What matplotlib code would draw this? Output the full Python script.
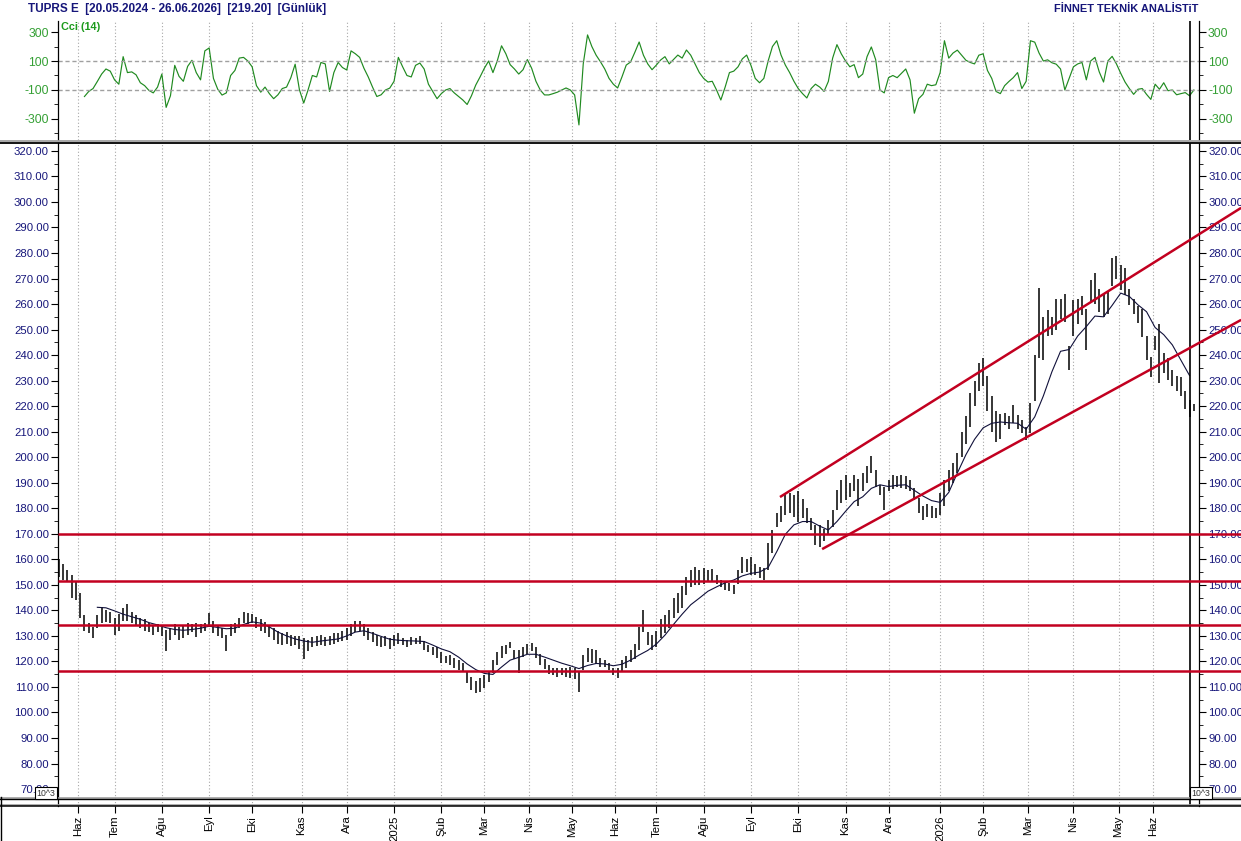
import matplotlib
matplotlib.use("Agg")
import matplotlib.pyplot as plt
from matplotlib.lines import Line2D
from matplotlib.ticker import MultipleLocator, FixedLocator
import numpy as np

plt.rcParams['font.family'] = ['Liberation Sans', 'DejaVu Sans']
plt.rcParams['axes.unicode_minus'] = False

# --- data --------------------------------------------------------------
# one bar for every second session (bar i -> trading day 2*i)
bar_low = [
    153, 152, 151, 145, 144, 137, 132, 131, 129, 133,
    135, 135.5, 135, 130.5, 132, 136, 136, 135, 134, 133,
    132, 131.5, 130.5, 131.5, 130, 124, 128.5, 130.5, 128.5, 129,
    130.5, 131.5, 129.5, 131, 132, 133.5, 131, 130, 129, 124,
    130, 131, 133, 135, 134.5, 135, 133, 132, 131, 129.5,
    128.5, 127, 126.5, 127, 126, 126.5, 125, 121, 124, 125.5,
    126, 126.5, 126, 126.5, 127, 127.5, 128, 128.5, 130, 131.5,
    132, 130, 128.5, 127.5, 126, 125.5, 126, 125, 126, 127,
    126.5, 125.8, 126.5, 127, 127, 124.5, 123.5, 122.5, 121.5, 119.5,
    119.5, 118.6, 117.5, 116.7, 115.8, 111.4, 108.8, 107.8, 108.2, 109.5,
    112, 115.4, 118.6, 121.5, 123, 125.2, 121, 115.4, 121.8, 123,
    124, 121.2, 118.5, 117, 115, 114.5, 114, 114.5, 114, 113.4,
    113, 108.2, 116.7, 119.9, 119.5, 119, 118, 117.8, 116.5, 114.7,
    113.4, 116, 117.5, 119.9, 121, 124.5, 131.7, 126.5, 124.5, 125.5,
    129, 131, 133, 137, 139, 141, 146, 149, 150, 149.9,
    150.5, 151, 151, 150.5, 149.2, 147.9, 147.5, 146.6, 150.5, 154.5,
    155, 154, 154, 152.5, 152, 155.8, 162.3, 172.8, 174.8, 177.4,
    178, 176.7, 174.8, 176, 174.1, 171.5, 165.6, 165, 167, 169.5,
    172.8, 179.4, 182, 183.3, 184.6, 186.6, 181, 186.6, 190, 193.8,
    188.5, 185.3, 179.4, 186.6, 187.5, 188.5, 188, 187.5, 186.6, 183.3,
    178, 175.4, 176.5, 176, 176, 177.4, 180.7, 186.6, 189.8, 193.8,
    200, 205, 212, 220, 226, 228, 218, 210, 206, 207,
    212.6, 211, 213.3, 211, 209.4, 206.8, 209.4, 222, 239, 238,
    247.3, 248, 250, 254, 253, 234.2, 247.3, 252, 255.8, 242,
    261, 260, 257, 255, 256, 266.9, 270, 265.6, 263.6, 259.7,
    256, 252.5, 247, 238.1, 231.6, 242, 229, 233, 230.3, 228,
    226, 223.8, 219, 215.9, 218,
]
bar_high = [
    160, 158, 156, 154, 151.5, 147, 138, 135, 133.5, 138,
    141.5, 140, 139.5, 137, 138.5, 141, 142.5, 139.5, 138, 137,
    136.5, 135, 134, 134.5, 133.5, 132.5, 133, 134.5, 133.5, 134,
    135, 134.5, 135, 134.5, 135, 139, 136, 134, 133, 130.5,
    134.5, 135, 137, 139.5, 139, 138.5, 137.5, 136.5, 135.5, 134,
    133, 132, 131, 131.5, 130.5, 130, 130, 129, 128.5, 129.5,
    130, 130.5, 129.5, 130, 131, 131, 132, 133, 134.5, 136,
    136, 134.5, 133, 131.5, 130.5, 129.5, 130, 129, 130.5, 131,
    129, 128.4, 129.5, 129, 130, 128, 126.5, 125.8, 125.5, 123.5,
    122, 122.5, 121.5, 120.6, 119.5, 116, 114, 112.5, 113.4, 114.7,
    116, 120.6, 123.8, 126, 126.5, 127.8, 124.5, 124.5, 125.8, 127,
    127.4, 125.8, 123, 121, 118.5, 117.3, 117.3, 117.3, 117.5, 118,
    117.3, 116, 122.5, 125.2, 125, 124.5, 121.2, 120.5, 119.5, 117.3,
    117.3, 120.5, 122, 124.5, 127, 133.6, 140.2, 131.7, 130.5, 132,
    136.5, 138, 140, 145, 147, 149.5, 153, 156, 157, 155.8,
    156.5, 156, 156.4, 154, 151.9, 151.2, 150.8, 149.9, 155.8, 161,
    160, 161, 158, 157, 156.5, 166.3, 171.5, 178, 180.7, 186,
    186, 185.3, 186.6, 183.5, 180, 176, 173.5, 173.5, 172, 175.4,
    179.4, 187.2, 191.2, 193.1, 189.8, 193.1, 191.5, 194, 196.5, 200.5,
    195, 189.2, 188.5, 191.2, 193, 192.5, 193.1, 192.5, 191.2, 187.9,
    184, 180.7, 181.5, 181, 180, 185.9, 191.2, 195.1, 197.7, 201.6,
    210, 216, 225, 230, 237, 239, 232, 224, 218, 217,
    217.2, 216, 220.5, 216.5, 214.6, 212, 221.1, 240, 266.3, 255,
    257.8, 255, 262, 262, 264, 243.4, 261.7, 262, 263, 258,
    269.5, 272, 266, 264, 265, 278, 279, 275.4, 274.1, 266,
    262, 259.1, 258, 247.3, 239.4, 247.3, 252, 241, 238.8, 234,
    232, 231.6, 226, 222.4, 221,
]

# moving average, read every second bar starting at bar 9
ma_first_bar = 9
ma_line = [
    141.2, 141, 139.8, 138.5, 137.5, 136.5, 135.2, 134.3, 133.2, 132.5,
    132.2, 132.5, 133, 133.8, 133.3, 132.8, 133, 134.5, 135.5, 135,
    133.5, 131.5, 130, 128.8, 128, 127.5, 128, 128.4, 128.8, 130,
    131.5, 132, 131, 129.8, 128.7, 128.3, 128.1, 128, 127.8, 126.4,
    124.9, 123.8, 121.7, 119, 116.8, 115.3, 114.9, 117.8, 120.5, 121.6,
    122.8, 122.8, 121.7, 120.5, 119.3, 118.3, 117.2, 118.4, 119.2, 119,
    118.3, 118.9, 120.5, 122.5, 124.3, 126.8, 130.3, 134.5, 138.5, 142.2,
    144.8, 147.5, 149.2, 150.8, 151.9, 153.5, 154.5, 155, 156.8, 163,
    169.8, 173.5, 174.8, 174.8, 173, 171.5, 174.8, 178.8, 182.6, 184.5,
    187.8, 189.2, 188.5, 189, 189.2, 187, 184.8, 183, 182.3, 186.2,
    193.8, 201, 207, 211.5, 213.3, 213.8, 213.5, 213.3, 211, 215.8,
    224, 233.5, 241.5, 242.2, 247.5, 251.2, 255.3, 255, 259.5, 264.3,
    263, 259.7, 257, 250.8, 248, 244, 238, 232,
]

# CCI(14), one value per bar starting at bar 6
cci_first_bar = 6
cci14 = [
    -145, -110, -90, -41,
    10, 45, 30, -30, -60, 130, 20, 25, 5, -50,
    -70, -103, -120, -80, 10, -220, -140, 70, -6, -40,
    63, 105, 20, -30, 170, 190, -20, -95, -135, -120,
    0, 35, 120, 125, 100, 60, -70, -115, -80, -125,
    -160, -133, -90, -80, -15, 78, -99, -190, -100, 0,
    -10, 90, 80, -110, 20, 90, 55, 38, 170, 150,
    125, 50, -10, -80, -145, -133, -100, -87, -40, 125,
    60, 0, -10, 70, 86, 45, -60, -110, -160, -125,
    -100, -90, -120, -145, -169, -200, -140, -66, -10, 50,
    100, 20, 100, 205, 150, 75, 45, 10, 40, 110,
    50, -40, -100, -134, -134, -125, -115, -100, -86, -100,
    -134, -341, 80, 280, 200, 140, 95, 45, -20, -60,
    -86, -10, 72, 93, 160, 231, 140, 80, 40, 72,
    107, 130, 80, 110, 141, 120, 176, 140, 80, 20,
    -20, -45, -40, -100, -169, -80, 20, 30, 60, 115,
    141, 70, -20, -50, -20, 100, 200, 240, 141, 72,
    20, -40, -90, -125, -155, -90, -60, -80, -110, -41,
    120, 213, 150, 100, 60, 75, -15, 10, 130, 197,
    110, -100, -120, -15, 0, -15, 15, 45, -30, -260,
    -160, -130, -60, -70, -64, 20, 240, 120, 155, 175,
    140, 105, 90, 80, 140, 150, 35, -20, -110, -125,
    -70, -41, -15, 20, -90, -40, 240, 230, 155, 100,
    108, 88, 78, 45, -100, -20, 60, 80, 90, -30,
    100, 125, 25, -45, 100, 132, 80, 15, -45, -90,
    -130, -95, -90, -130, -165, -60, -95, -50, -105, -100,
    -133, -125, -118, -140, -100,
]

support_levels = [170.0, 151.5, 134.3, 116.3]
# channel lines: (trading day, price) start -> end
channel_upper = [(335.5, 184.4), (550.0, 297.7)]
channel_lower = [(355.1, 164.0), (550.0, 253.8)]
last_day = 526

month_labels = ['Haz', 'Tem', 'Ağu', 'Eyl', 'Eki', 'Kas', 'Ara', '2025',
                'Şub', 'Mar', 'Nis', 'May', 'Haz', 'Tem', 'Ağu', 'Eyl',
                'Eki', 'Kas', 'Ara', '2026', 'Şub', 'Mar', 'Nis', 'May', 'Haz']
month_days = [9, 26, 48, 70, 90, 113, 134, 156, 178, 198, 219, 239, 259,
              278, 300, 322, 344, 366, 386, 410, 430, 451, 472, 493, 509]

title = 'TUPRS E  [20.05.2024 - 26.06.2026]  [219.20]  [Günlük]'
brand = 'FİNNET TEKNİK ANALİSTiT'

# --- layout ---------------------------------------------------------------
W, H = 1241, 841
NAVY = '#16167a'
RED = '#c20020'
GREEN_TXT = '#35a035'
GRID = '#a8a8a8'


def box(x0, y0, x1, y1):
    return [x0 / W, 1 - y1 / H, (x1 - x0) / W, (y1 - y0) / H]


fig = plt.figure(figsize=(W / 100, H / 100), dpi=100)
ax_cci = fig.add_axes(box(58, 21, 1199, 140))
ax = fig.add_axes(box(58, 143, 1199, 799), sharex=ax_cci)
ax_d = fig.add_axes(box(58, 799, 1199, 806), sharex=ax_cci)

ax_cci.set_xlim(-0.3, 530.4)

for a in (ax_cci, ax, ax_d):
    a.set_xticks(month_days)
    a.grid(axis='x', color=GRID, linestyle=(0, (1, 2)), linewidth=0.8)
    a.axvline(last_day, color='black', lw=1.2, zorder=4)
    for s in a.spines.values():
        s.set_linewidth(0.9)
    a.spines['top'].set_visible(False)
    a.spines['bottom'].set_visible(False)

# --- CCI panel ------------------------------------------------------------
cci_days = (cci_first_bar + np.arange(len(cci14))) * 2
ax_cci.plot(cci_days, cci14, color='#208a20', lw=0.85)
for lvl in (100, -100):
    ax_cci.axhline(lvl, color='#a0a0a0', lw=1.0, ls=(0, (3, 2)))
ax_cci.set_ylim(-445, 376)
ax_cci.yaxis.set_major_locator(FixedLocator([-300, -100, 100, 300]))
ax_cci.yaxis.set_minor_locator(FixedLocator([-400, -200, 0, 200]))
ax_cci.yaxis.set_ticks_position('both')
ax_cci.tick_params(axis='y', which='major', length=5, pad=1.5,
                   labelsize=8.8, labelcolor=GREEN_TXT, labelleft=True,
                   labelright=True)
ax_cci.tick_params(axis='y', which='minor', length=3)
ax_cci.tick_params(axis='x', length=0, labelbottom=False)
fig.text(61 / W, 1 - 27 / H, 'Cci (14)', color='#1c9a1c', fontsize=7.8,
         fontweight='bold', va='center')

# --- price panel ----------------------------------------------------------
days = np.arange(len(bar_low)) * 2
ax.vlines(days, bar_low, bar_high, color='black', lw=1.1)
ma_days = (ma_first_bar + 2 * np.arange(len(ma_line))) * 2
ax.plot(ma_days, ma_line, color='#10103a', lw=0.8)

for lvl in support_levels:
    ax.plot([-0.3, 550], [lvl, lvl], color=RED, lw=1.8, clip_on=False,
            solid_capstyle='butt', zorder=5)
for ch in (channel_upper, channel_lower):
    ax.plot([ch[0][0], ch[1][0]], [ch[0][1], ch[1][1]], color=RED, lw=1.8,
            clip_on=False, solid_capstyle='butt', zorder=5)

ax.set_ylim(66.1, 323.1)
ax.yaxis.set_major_locator(FixedLocator(np.arange(70, 321, 10)))
ax.yaxis.set_minor_locator(MultipleLocator(5))
ax.yaxis.set_major_formatter(plt.FormatStrFormatter('%.2f'))
ax.yaxis.set_ticks_position('both')
ax.tick_params(axis='y', which='major', length=5, pad=1.5, labelsize=8.2,
               labelcolor=NAVY, labelleft=True, labelright=True)
ax.tick_params(axis='y', which='minor', length=3)
ax.tick_params(axis='x', length=0, labelbottom=False)

# --- date strip -----------------------------------------------------------
ax_d.set_yticks([])
ax_d.set_xticklabels(month_labels, rotation=90, fontsize=8.2)
ax_d.tick_params(axis='x', length=5, pad=2, width=0.8)

# separators across the full width
for y, c, w in ((141.0, '#a0a0a0', 1.3), (142.8, 'black', 1.3),
                (797.8, '#a0a0a0', 1.2), (799.3, 'black', 1.0),
                (804.6, '#a0a0a0', 1.2), (806.0, 'black', 1.1)):
    fig.add_artist(Line2D([0, 1], [1 - y / H, 1 - y / H],
                          transform=fig.transFigure, color=c, lw=w))
fig.add_artist(Line2D([0.5 / W, 0.5 / W], [0, 1 - 797 / H],
                      transform=fig.transFigure, color='black', lw=1.0))

# scale boxes sit over the lowest price labels, as in the original
for xp in (46, 1201):
    fig.text(xp / W, 1 - 793 / H, '10^3', fontsize=6.3, ha='center',
             va='center', color='#333333', zorder=10,
             bbox=dict(boxstyle='square,pad=0.15', fc='white', ec='black',
                       lw=0.8))

fig.text(28 / W, 1 - 9 / H, title, fontsize=8.5, fontweight='bold',
         color=NAVY, va='center')
fig.text(1198 / W, 1 - 9 / H, brand, fontsize=7.9, fontweight='bold',
         color=NAVY, va='center', ha='right')

fig.savefig('out.png', dpi=100, facecolor='white')
